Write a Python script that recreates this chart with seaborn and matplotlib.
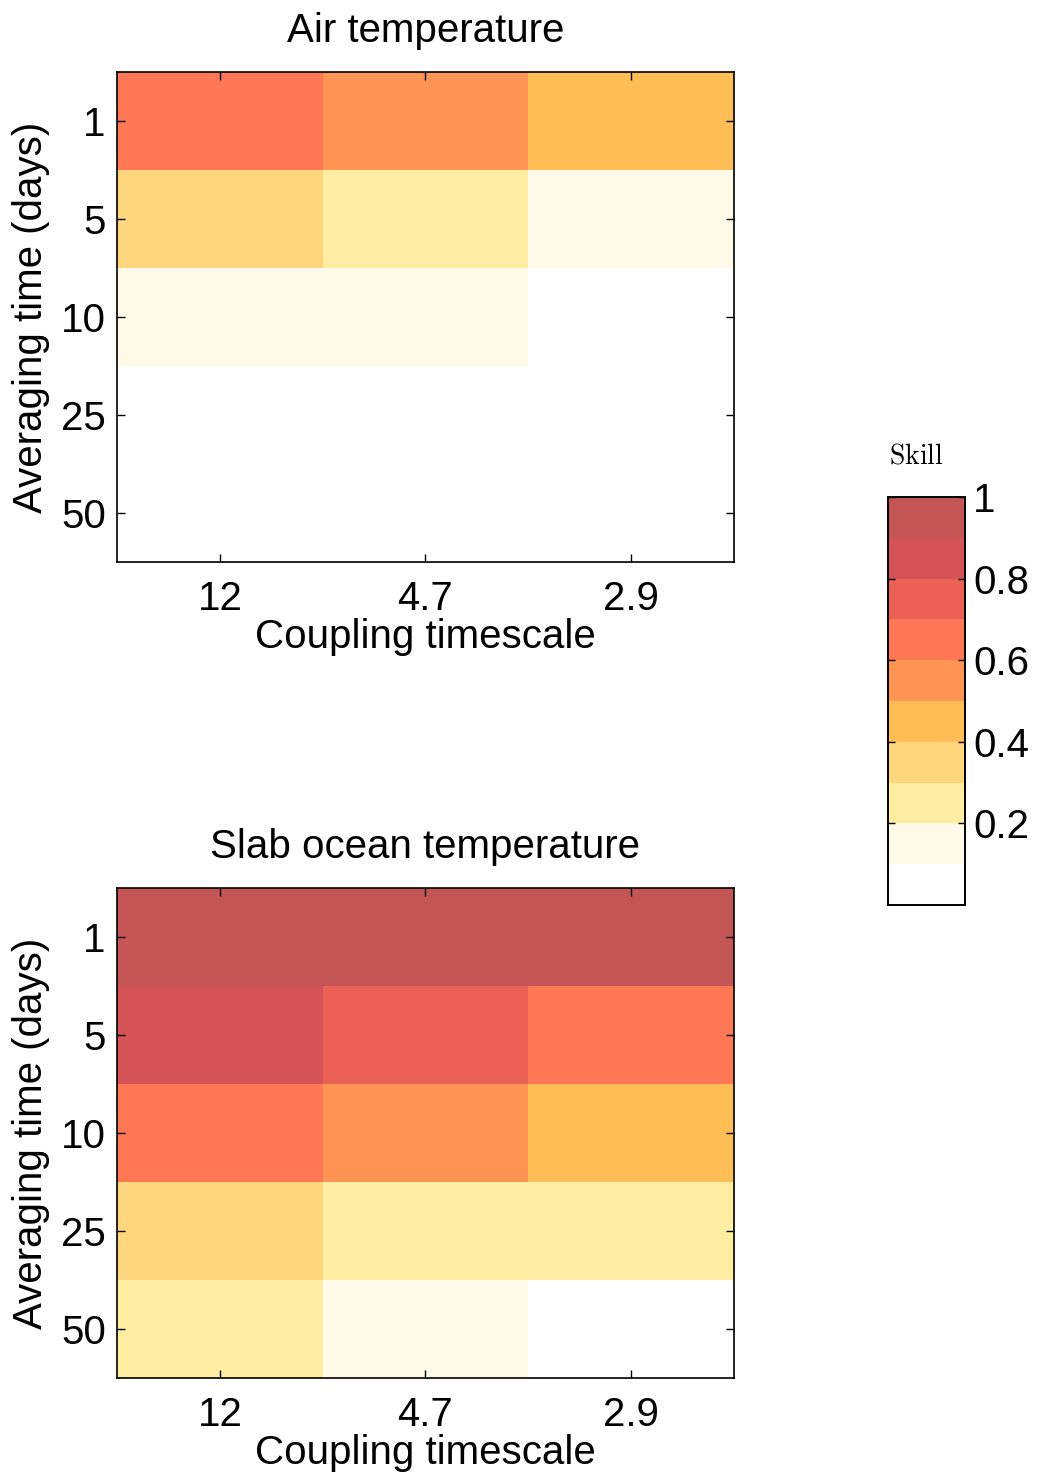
import numpy as np
import pandas as pd
import seaborn as sns
import matplotlib.pyplot as plt
from matplotlib.colors import ListedColormap

# ----------------------------
# Data (skill per averaging time / coupling timescale)
# ----------------------------
averaging_days = ["1", "5", "10", "25", "50"]
coupling_scales = ["12", "4.7", "2.9"]

air_skill = [
    [0.65, 0.55, 0.45],
    [0.35, 0.25, 0.15],
    [0.15, 0.15, 0.05],
    [0.05, 0.05, 0.05],
    [0.05, 0.05, 0.05],
]
slab_skill = [
    [0.95, 0.95, 0.95],
    [0.85, 0.75, 0.65],
    [0.65, 0.55, 0.45],
    [0.35, 0.25, 0.25],
    [0.25, 0.15, 0.05],
]

panel_titles = ["Air temperature", "Slab ocean temperature"]
cbar_ticks = [0.2, 0.4, 0.6, 0.8, 1]
cbar_ticklabels = ["0.2", "0.4", "0.6", "0.8", "1"]

skill_colors = ["#FFFFFF", "#FFF9E7", "#FFEDA1", "#FED67E", "#FEBE55",
                "#FF9555", "#FF7855", "#EB6156", "#D45356", "#C45555"]
cmap = ListedColormap(skill_colors)

# ----------------------------
# Figure
# ----------------------------
sns.set_theme(style="white")
plt.rcParams["font.family"] = ["Liberation Sans", "DejaVu Sans"]
plt.rcParams["mathtext.fontset"] = "cm"
plt.rcParams["text.color"] = "black"
plt.rcParams["axes.labelcolor"] = "black"
plt.rcParams["xtick.color"] = "black"
plt.rcParams["ytick.color"] = "black"
fs = 29

fig = plt.figure(figsize=(10.38, 14.74), dpi=100)
ax_top = fig.add_axes([0.1127, 0.6187, 0.5944, 0.3324])
ax_bot = fig.add_axes([0.1127, 0.0651, 0.5944, 0.3324])
cax = fig.add_axes([0.8555, 0.386, 0.0742, 0.2768])

for i, (ax, vals, title) in enumerate(zip([ax_top, ax_bot], [air_skill, slab_skill], panel_titles)):
    df = pd.DataFrame(vals, index=averaging_days, columns=coupling_scales)
    sns.heatmap(df, ax=ax, cmap=cmap, vmin=0, vmax=1,
                cbar=(i == 0), cbar_ax=cax if i == 0 else None)
    ax.set_axisbelow(False)
    for sp in ax.spines.values():
        sp.set_visible(True)
        sp.set_color("black")
        sp.set_linewidth(1.2)
    ax.tick_params(direction="in", top=True, right=True, left=True, bottom=True,
                   length=6, width=1, color="black", labelcolor="black", labelsize=fs)
    ax.tick_params(axis="x", pad=13)
    ax.tick_params(axis="y", pad=8)
    ax.set_yticklabels(averaging_days, rotation=0, va="center_baseline")
    ax.set_xticklabels(coupling_scales, rotation=0)
    ax.set_xlabel("Coupling timescale", fontsize=fs, labelpad=0, color="black")
    ax.set_ylabel("Averaging time (days)", fontsize=fs, labelpad=8, color="black")
    ax.set_title(title, fontsize=fs, pad=22, color="black")

# Colorbar styling
cax.set_axisbelow(False)
cax.set_yticks(cbar_ticks)
cax.set_yticklabels(cbar_ticklabels)
cax.tick_params(direction="in", left=True, right=True, length=5, width=1,
                color="black", labelcolor="black", labelsize=fs, pad=6)
for sp in cax.spines.values():
    sp.set_visible(True)
    sp.set_color("black")
    sp.set_linewidth(1.2)
fig.text(0.8825, 0.69, r"$\mathrm{Skill}$", fontsize=20, ha="center", va="center", color="black")

fig.savefig("out.png", dpi=100)
plt.close()
